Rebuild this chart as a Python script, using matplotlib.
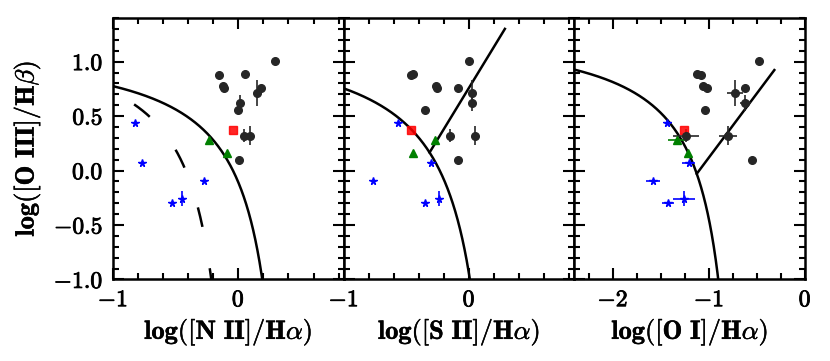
import numpy as np
import matplotlib
matplotlib.use("Agg")
import matplotlib.pyplot as plt
import matplotlib.patheffects as pe
from matplotlib.ticker import FixedLocator, FixedFormatter, MultipleLocator

plt.rcParams['font.family'] = 'serif'
plt.rcParams['font.serif'] = ['cmr10', 'DejaVu Serif']
plt.rcParams['mathtext.fontset'] = 'cm'

# --- data -------------------------------------------------------------
# black circles (shared y, one x list per panel)
blk_y = [1.01, 0.89, 0.88, 0.78, 0.755, 0.755, 0.71, 0.62, 0.555, 0.32, 0.32, 0.095]
blk_yerr = [0, 0, 0, 0, 0, 0, 0.12, 0.075, 0, 0.06, 0.085, 0]
blk_x_n2 = [0.29, 0.05, -0.15, -0.125, -0.11, 0.18, 0.15, 0.015, 0.0, 0.045, 0.09, 0.005]
blk_x_s2 = [0.0, -0.45, -0.465, -0.265, -0.255, -0.09, 0.02, 0.025, -0.35, -0.15, 0.05, -0.085]
blk_x_o1 = [-0.48, -1.12, -1.08, -1.065, -1.025, -0.62, -0.73, -0.62, -1.04, -1.24, -0.80, -0.55]
blk_xerr_o1 = [0, 0, 0, 0, 0, 0, 0.085, 0.055, 0, 0.135, 0.095, 0]

# blue stars
blu_y = [0.435, 0.07, -0.10, -0.30, -0.26]
blu_yerr = [0, 0, 0, 0, 0.07]
blu_x_n2 = [-0.82, -0.765, -0.27, -0.525, -0.45]
blu_x_s2 = [-0.57, -0.30, -0.765, -0.35, -0.24]
blu_x_o1 = [-1.435, -1.21, -1.58, -1.425, -1.26]
blu_xerr_n2 = [0, 0.025, 0, 0, 0]
blu_xerr_s2 = [0, 0.025, 0, 0, 0]
blu_xerr_o1 = [0, 0.07, 0.072, 0.06, 0.115]

# green triangles
grn_y = [0.28, 0.165]
grn_x_n2 = [-0.23, -0.09]
grn_x_s2 = [-0.27, -0.445]
grn_x_o1 = [-1.33, -1.22]
grn_xerr_o1 = [0.10, 0]

# red square
red_y = [0.37]
red_x_n2 = [-0.04]
red_x_s2 = [-0.465]
red_x_o1 = [-1.26]

# demarcation curves  y = c/(x - d) + e
kew_n2 = (0.61, 0.47, 1.19)
kau_n2 = (0.61, 0.05, 1.30)
kew_s2 = (0.72, 0.32, 1.30)
kew_o1 = (0.73, -0.59, 1.33)
# Seyfert/LINER lines  y = a x + b, drawn up to x_end
sey_s2 = (1.89, 0.76, 0.286)
sey_o1 = (1.18, 1.30, -0.32)

xlabels = [r'$\mathbf{log([N\ II]/H}\alpha\mathbf{)}$',
           r'$\mathbf{log([S\ II]/H}\alpha\mathbf{)}$',
           r'$\mathbf{log([O\ I]/H}\alpha\mathbf{)}$']
ylabel = r'$\mathbf{log([O\ III]/H}\beta\mathbf{)}$'
xlims = [(-1.0, 0.84), (-1.0, 0.84), (-2.4, 0.0)]
xticks = [[-1, 0], [-1, 0], [-2, -1, 0]]
xticklabels = [[r'$\mathbf{-1}$', r'$\mathbf{0}$'],
               [r'$\mathbf{-1}$', r'$\mathbf{0}$'],
               [r'$\mathbf{-2}$', r'$\mathbf{-1}$', r'$\mathbf{0}$']]
xminor = [0.2, 0.2, 0.25]
yticks = [-1.0, -0.5, 0.0, 0.5, 1.0]
yticklabels = [r'$\mathbf{-1.0}$', r'$\mathbf{-0.5}$', r'$\mathbf{0.0}$',
               r'$\mathbf{0.5}$', r'$\mathbf{1.0}$']

bold_ticks = [pe.withStroke(linewidth=0.6, foreground='k')]
bold_lab = [pe.withStroke(linewidth=0.35, foreground='k')]


def curve(ax, pars, x0, **kw):
    c, d, e = pars
    x = np.linspace(x0, d - 0.02, 600)
    ax.plot(x, c / (x - d) + e, color='k', lw=1.8, **kw)
    return c, d, e


def seyfert(ax, pars, kew):
    a, b, xend = pars
    c, d, e = kew
    r = np.roots([a, (b - e) - a * d, -(b - e) * d - c]).real
    xs = r[r < d].max()
    x = np.array([xs, xend])
    ax.plot(x, a * x + b, color='k', lw=1.8)


fig, axes = plt.subplots(1, 3, figsize=(8.3, 3.61), dpi=100, sharey=True)
fig.subplots_adjust(left=0.136, right=0.97, top=0.95, bottom=0.226, wspace=0)

panels = [
    (blk_x_n2, [0] * 12, blu_x_n2, blu_xerr_n2, grn_x_n2, [0, 0], red_x_n2),
    (blk_x_s2, [0] * 12, blu_x_s2, blu_xerr_s2, grn_x_s2, [0, 0], red_x_s2),
    (blk_x_o1, blk_xerr_o1, blu_x_o1, blu_xerr_o1, grn_x_o1, grn_xerr_o1, red_x_o1),
]

for i, ax in enumerate(axes):
    bx, bxe, ux, uxe, gx, gxe, rx = panels[i]
    ax.errorbar(bx, blk_y, xerr=bxe, yerr=blk_yerr, fmt='o', color='0.15',
                ms=5.5, elinewidth=1.2, capsize=0, zorder=3)
    ax.errorbar(ux, blu_y, xerr=uxe, yerr=blu_yerr, fmt='*', color='blue',
                ms=5.5, elinewidth=1.2, capsize=0, zorder=3)
    ax.errorbar(gx, grn_y, xerr=gxe, fmt='^', color='green',
                ms=5.5, elinewidth=1.2, capsize=0, zorder=3)
    ax.plot(rx, red_y, 's', color='red', alpha=0.85, ms=5.5, zorder=3)

    ax.set_xlim(*xlims[i])
    ax.set_ylim(-1.0, 1.4)
    ax.xaxis.set_major_locator(FixedLocator(xticks[i]))
    ax.xaxis.set_major_formatter(FixedFormatter(xticklabels[i]))
    ax.xaxis.set_minor_locator(MultipleLocator(xminor[i]))
    ax.yaxis.set_major_locator(FixedLocator(yticks))
    ax.yaxis.set_major_formatter(FixedFormatter(yticklabels))
    ax.yaxis.set_minor_locator(MultipleLocator(0.1))
    ax.tick_params(which='both', direction='in', top=True, right=True,
                   width=1.5, labelsize=17)
    ax.tick_params(which='major', length=8, pad=7)
    ax.tick_params(which='minor', length=4.5)
    for s in ax.spines.values():
        s.set_linewidth(1.8)
    for t in ax.get_xticklabels() + ax.get_yticklabels():
        t.set_path_effects(bold_ticks)
    ax.set_xlabel(xlabels[i], fontsize=19, labelpad=4, path_effects=bold_lab)

axes[0].set_ylabel(ylabel, fontsize=19, labelpad=8, path_effects=bold_lab)

curve(axes[0], kew_n2, -1.0)
curve(axes[0], kau_n2, -1.0, linestyle=(15, (8, 16.8)))
k2 = curve(axes[1], kew_s2, -1.0)
seyfert(axes[1], sey_s2, k2)
k3 = curve(axes[2], kew_o1, -2.4)
seyfert(axes[2], sey_o1, k3)

fig.savefig('out.png', dpi=100)
